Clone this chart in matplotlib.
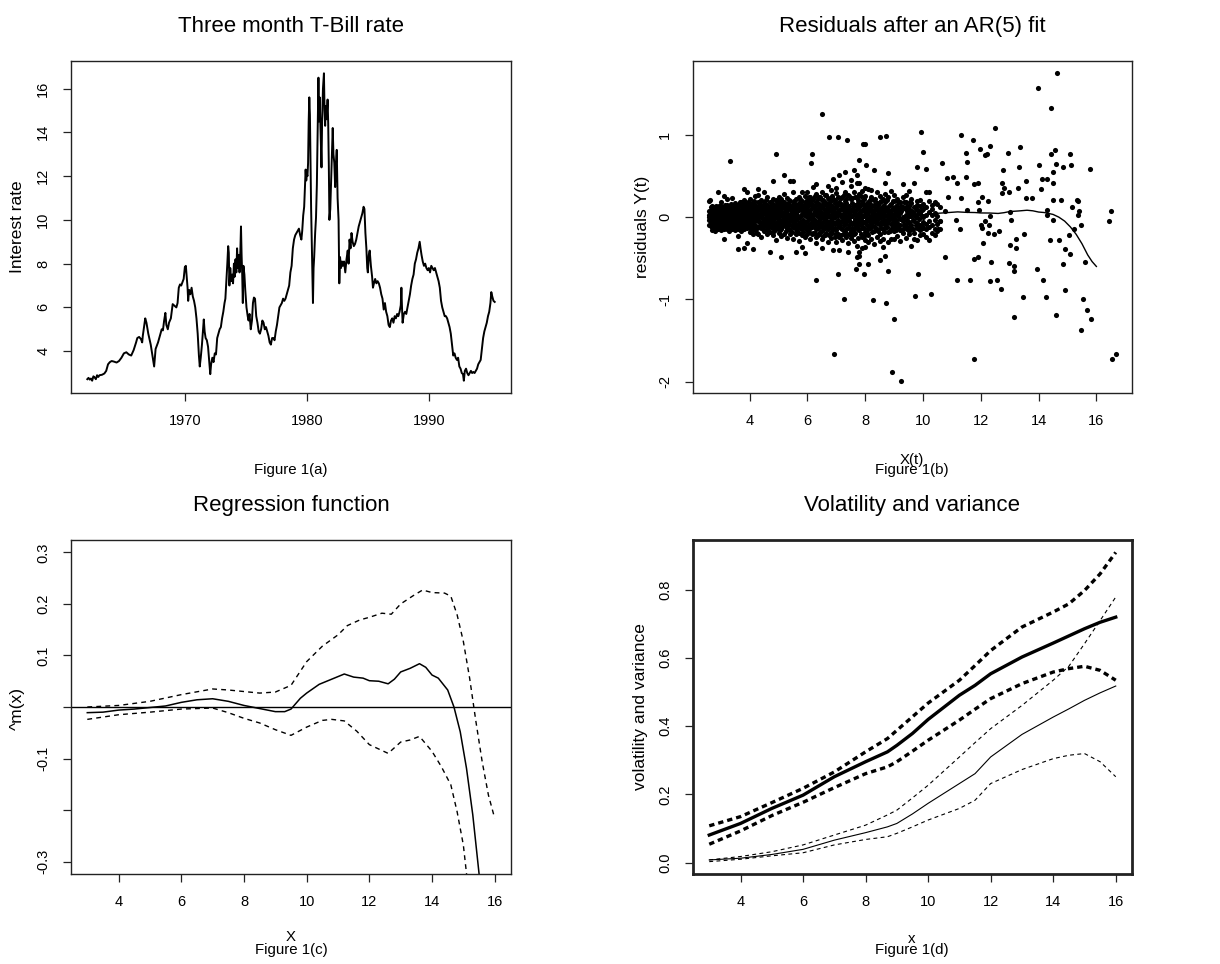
"""
Four-panel figure: T-Bill rate, AR(5) residuals, regression function,
volatility and variance (R-style base graphics look).
"""

import matplotlib
matplotlib.use("Agg")
import matplotlib.pyplot as plt

plt.rcParams["font.family"] = ["Liberation Sans", "DejaVu Sans"]
plt.rcParams["axes.unicode_minus"] = False

# ---------------------------------------------------------------------------
# Data
# ---------------------------------------------------------------------------

# (a) three month T-Bill rate
TB_YEAR = [
    1962.00, 1962.10, 1962.20, 1962.30, 1962.40, 1962.50, 1962.60, 1962.70, 1962.80, 1962.90,
    1963.00, 1963.20, 1963.40, 1963.55, 1963.70, 1963.85, 1964.00, 1964.20, 1964.40, 1964.60,
    1964.80, 1965.00, 1965.20, 1965.40, 1965.60, 1965.80, 1966.00, 1966.10, 1966.25, 1966.40,
    1966.50, 1966.55, 1966.65, 1966.75, 1966.85, 1967.00, 1967.20, 1967.40, 1967.48, 1967.60,
    1967.80, 1968.00, 1968.10, 1968.20, 1968.30, 1968.40, 1968.48, 1968.60, 1968.70, 1968.85,
    1969.00, 1969.10, 1969.20, 1969.30, 1969.40, 1969.50, 1969.60, 1969.70, 1969.80, 1969.90,
    1970.00, 1970.08, 1970.15, 1970.22, 1970.27, 1970.35, 1970.45, 1970.55, 1970.65, 1970.75,
    1970.85, 1970.95, 1971.05, 1971.15, 1971.22, 1971.30, 1971.40, 1971.50, 1971.55, 1971.62,
    1971.70, 1971.80, 1971.90, 1972.00, 1972.08, 1972.15, 1972.25, 1972.35, 1972.45, 1972.55,
    1972.65, 1972.75, 1972.85, 1972.95, 1973.05, 1973.15, 1973.25, 1973.32, 1973.40, 1973.48,
    1973.55, 1973.60, 1973.65, 1973.72, 1973.80, 1973.88, 1973.95, 1974.02, 1974.08, 1974.15,
    1974.22, 1974.28, 1974.35, 1974.42, 1974.48, 1974.55, 1974.60, 1974.65, 1974.70, 1974.75,
    1974.80, 1974.88, 1974.95, 1975.05, 1975.15, 1975.22, 1975.30, 1975.40, 1975.50, 1975.58,
    1975.66, 1975.75, 1975.85, 1975.95, 1976.05, 1976.15, 1976.25, 1976.35, 1976.45, 1976.55,
    1976.65, 1976.75, 1976.85, 1976.95, 1977.05, 1977.15, 1977.25, 1977.35, 1977.45, 1977.55,
    1977.65, 1977.75, 1977.85, 1977.95, 1978.05, 1978.15, 1978.25, 1978.35, 1978.45, 1978.55,
    1978.65, 1978.75, 1978.85, 1978.95, 1979.05, 1979.15, 1979.25, 1979.35, 1979.45, 1979.55,
    1979.62, 1979.70, 1979.78, 1979.85, 1979.90, 1979.95, 1980.00, 1980.05, 1980.10, 1980.15,
    1980.20, 1980.25, 1980.30, 1980.35, 1980.40, 1980.45, 1980.50, 1980.55, 1980.60, 1980.68,
    1980.75, 1980.82, 1980.88, 1980.95, 1981.00, 1981.05, 1981.10, 1981.15, 1981.20, 1981.25,
    1981.32, 1981.40, 1981.45, 1981.50, 1981.55, 1981.62, 1981.70, 1981.75, 1981.80, 1981.85,
    1981.92, 1982.00, 1982.05, 1982.12, 1982.18, 1982.25, 1982.32, 1982.40, 1982.45, 1982.52,
    1982.60, 1982.66, 1982.72, 1982.80, 1982.88, 1982.95, 1983.05, 1983.15, 1983.25, 1983.35,
    1983.42, 1983.50, 1983.58, 1983.66, 1983.75, 1983.85, 1983.95, 1984.05, 1984.15, 1984.25,
    1984.35, 1984.45, 1984.55, 1984.65, 1984.72, 1984.80, 1984.88, 1984.95, 1985.00, 1985.08,
    1985.15, 1985.25, 1985.35, 1985.42, 1985.50, 1985.60, 1985.70, 1985.80, 1985.90, 1986.00,
    1986.10, 1986.20, 1986.30, 1986.40, 1986.50, 1986.60, 1986.70, 1986.80, 1986.90, 1987.00,
    1987.10, 1987.20, 1987.30, 1987.40, 1987.50, 1987.60, 1987.70, 1987.75, 1987.80, 1987.85,
    1987.95, 1988.05, 1988.15, 1988.25, 1988.35, 1988.45, 1988.55, 1988.65, 1988.75, 1988.85,
    1988.95, 1989.05, 1989.15, 1989.25, 1989.32, 1989.40, 1989.50, 1989.60, 1989.70, 1989.80,
    1989.90, 1990.00, 1990.10, 1990.20, 1990.30, 1990.40, 1990.50, 1990.60, 1990.70, 1990.80,
    1990.90, 1991.00, 1991.10, 1991.20, 1991.30, 1991.40, 1991.50, 1991.60, 1991.70, 1991.80,
    1991.90, 1992.00, 1992.10, 1992.20, 1992.30, 1992.40, 1992.50, 1992.60, 1992.70, 1992.80,
    1992.87, 1992.95, 1993.05, 1993.15, 1993.25, 1993.35, 1993.45, 1993.55, 1993.65, 1993.75,
    1993.85, 1993.95, 1994.05, 1994.15, 1994.25, 1994.35, 1994.45, 1994.55, 1994.65, 1994.75,
    1994.85, 1994.95, 1995.05, 1995.12, 1995.20, 1995.30, 1995.40,
]
TB_RATE = [
    2.72, 2.78, 2.70, 2.75, 2.65, 2.85, 2.80, 2.72, 2.90, 2.82,
    2.90, 2.92, 2.98, 3.10, 3.40, 3.50, 3.55, 3.52, 3.48, 3.55,
    3.70, 3.90, 3.95, 3.85, 3.80, 4.05, 4.40, 4.60, 4.65, 4.55,
    4.40, 4.70, 5.10, 5.50, 5.30, 4.80, 4.30, 3.60, 3.30, 4.10,
    4.40, 4.80, 5.00, 4.95, 5.40, 5.75, 5.20, 5.00, 5.30, 5.50,
    6.15, 6.10, 6.05, 6.00, 6.20, 6.90, 7.05, 7.00, 7.15, 7.30,
    7.85, 7.90, 7.40, 6.90, 6.30, 6.80, 6.60, 6.90, 6.50, 6.30,
    6.00, 5.50, 4.80, 3.80, 3.30, 3.70, 4.30, 5.10, 5.45, 4.90,
    4.60, 4.50, 4.20, 3.50, 2.95, 3.40, 3.70, 3.50, 3.90, 3.85,
    4.60, 4.80, 5.00, 5.10, 5.50, 5.80, 6.20, 6.40, 7.20, 8.00,
    8.80, 8.50, 7.00, 7.80, 7.20, 7.50, 7.10, 8.00, 7.40, 8.20,
    7.60, 8.70, 7.80, 8.40, 7.60, 8.60, 9.70, 8.40, 7.50, 6.20,
    7.90, 7.50, 6.80, 6.00, 5.60, 5.40, 5.70, 5.00, 5.40, 6.20,
    6.45, 6.40, 5.60, 5.30, 4.90, 4.80, 5.00, 5.40, 5.30, 5.00,
    5.10, 4.90, 4.70, 4.40, 4.30, 4.60, 4.60, 4.50, 4.90, 5.20,
    5.60, 6.00, 6.10, 6.20, 6.40, 6.30, 6.40, 6.60, 6.80, 7.00,
    7.60, 7.90, 8.70, 9.10, 9.30, 9.40, 9.50, 9.60, 9.30, 9.10,
    9.50, 10.20, 10.60, 11.60, 12.30, 11.80, 12.10, 12.00, 12.60, 14.50,
    15.60, 14.80, 12.50, 10.50, 9.00, 7.50, 6.20, 7.80, 8.30, 9.40,
    10.10, 11.60, 14.00, 16.50, 14.50, 15.60, 14.60, 13.50, 12.40, 14.50,
    16.00, 16.70, 15.00, 14.30, 15.20, 14.60, 15.50, 14.40, 12.50, 10.00,
    10.50, 12.00, 12.80, 14.20, 13.00, 12.60, 11.50, 12.70, 13.20, 11.00,
    10.00, 7.10, 8.30, 7.80, 8.10, 7.90, 8.10, 7.60, 8.20, 8.60,
    8.00, 9.10, 8.70, 9.40, 9.00, 8.80, 8.90, 9.10, 9.40, 9.70,
    9.90, 10.10, 10.30, 10.60, 10.50, 9.40, 8.70, 7.80, 7.60, 8.40,
    8.60, 7.90, 7.40, 6.90, 7.10, 7.30, 7.10, 7.20, 7.10, 6.90,
    6.60, 6.40, 5.90, 6.20, 5.80, 5.60, 5.20, 5.10, 5.40, 5.50,
    5.30, 5.60, 5.50, 5.70, 5.60, 5.80, 6.10, 6.90, 6.00, 5.30,
    5.70, 5.80, 5.70, 6.00, 6.30, 6.60, 7.00, 7.30, 7.50, 8.00,
    8.20, 8.50, 8.70, 9.00, 8.70, 8.40, 8.10, 7.90, 8.00, 7.80,
    7.70, 7.80, 7.60, 7.90, 7.80, 7.70, 7.80, 7.60, 7.40, 7.20,
    6.90, 6.30, 6.00, 5.80, 5.60, 5.60, 5.50, 5.30, 5.10, 4.80,
    4.30, 3.80, 3.90, 3.70, 3.60, 3.70, 3.30, 3.20, 3.00, 2.95,
    2.65, 3.10, 3.20, 3.00, 2.90, 3.00, 3.10, 3.00, 3.05, 3.00,
    3.10, 3.20, 3.40, 3.50, 3.60, 4.10, 4.60, 4.90, 5.10, 5.30,
    5.60, 5.80, 6.20, 6.70, 6.50, 6.30, 6.25,
]

# (b) residuals: dense cloud, by X(t) column -> residual values
CLOUD = {
    2.6: [0.02, -0.04, 0.07, -0.09, 0.20, 0.00],
    2.7: [0.05, -0.06, 0.10, -0.12, 0.00, -0.16, 0.13, 0.03],
    2.8: [0.03, -0.08, 0.08, -0.02, -0.13, 0.12, -0.17, 0.05],
    2.9: [0.06, -0.04, 0.01, -0.10, 0.11, 0.31, -0.14, -0.07],
    3.0: [0.04, -0.06, 0.09, -0.12, 0.00, 0.14, -0.16, 0.18],
    3.1: [0.02, -0.02, 0.07, -0.09, 0.12, -0.14, -0.26, 0.05, 0.26],
    3.2: [0.05, -0.05, 0.10, -0.10, 0.00, 0.15, -0.15, 0.22],
    3.3: [0.01, -0.07, 0.08, -0.12, 0.13, 0.04, -0.03, -0.17],
    3.4: [0.03, -0.04, 0.09, -0.10, 0.14, 0.23, -0.15, 0.06],
    3.5: [0.00, -0.06, 0.06, -0.11, 0.12, -0.16, 0.17, 0.02],
    3.6: [0.04, -0.03, 0.10, -0.09, -0.39, -0.23, 0.15, -0.14, 0.07],
    3.7: [0.02, -0.07, 0.08, -0.12, 0.13, 0.18, -0.17, -0.02],
    3.8: [0.05, -0.05, 0.11, -0.10, 0.21, 0.34, -0.38, -0.15, 0.00],
    3.9: [0.01, -0.08, 0.07, -0.13, 0.14, 0.30, -0.32, 0.04, -0.03],
    4.0: [0.03, -0.04, 0.09, -0.11, 0.16, -0.18, 0.22, 0.00],
    4.1: [0.06, -0.06, 0.12, -0.14, 0.01, -0.39, 0.18, -0.20],
    4.2: [0.02, -0.09, 0.08, -0.03, 0.15, -0.16, 0.26, 0.05],
    4.3: [0.04, -0.05, 0.10, -0.12, 0.34, -0.21, 0.18, -0.01, 0.27],
    4.4: [0.00, -0.07, 0.07, -0.13, 0.14, -0.24, 0.21, 0.03],
    4.5: [0.05, -0.03, 0.11, -0.10, 0.31, -0.17, 0.18, -0.06],
    4.6: [0.02, -0.08, 0.08, -0.14, 0.24, -0.20, 0.15, 0.00],
    4.7: [0.06, -0.04, 0.12, -0.11, -0.43, 0.19, -0.18, 0.01],
    4.8: [0.03, -0.06, 0.09, -0.13, 0.44, 0.16, -0.22, 0.22, -0.01],
    4.9: [0.00, -0.09, 0.07, -0.15, 0.14, -0.28, 0.21, 0.04],
    5.0: [0.05, -0.05, 0.11, -0.12, 0.18, -0.19, 0.25, -0.02],
    5.1: [0.02, -0.08, 0.08, -0.14, 0.15, -0.48, -0.23, 0.22, 0.04],
    5.2: [0.06, -0.04, 0.12, -0.10, 0.51, 0.19, -0.20, -0.01, 0.28],
    5.3: [0.01, -0.07, 0.09, -0.13, 0.16, -0.25, 0.23, 0.04],
    5.4: [0.04, -0.05, 0.10, -0.16, 0.44, 0.20, -0.21, 0.00],
    5.5: [0.02, -0.09, 0.08, -0.12, 0.44, 0.30, -0.27, 0.15, -0.03],
    5.6: [0.05, -0.04, 0.13, -0.15, -0.43, 0.22, -0.20, 0.01],
    5.7: [0.00, -0.07, 0.09, -0.11, 0.17, -0.29, 0.24, -0.19],
    5.8: [0.04, -0.06, 0.11, -0.14, 0.31, 0.20, -0.22, -0.36, 0.02],
    5.9: [0.02, -0.09, 0.07, -0.12, 0.16, -0.44, 0.26, -0.24],
    6.0: [0.06, -0.05, 0.12, -0.16, 0.21, -0.21, 0.01, 0.30],
    6.1: [0.01, -0.08, 0.09, -0.13, 0.18, -0.27, 0.25, 0.04],
    6.2: [0.04, -0.04, 0.13, -0.11, 0.37, -0.19, 0.22, -0.02],
    6.3: [0.02, -0.07, 0.10, -0.15, 0.40, 0.19, -0.24, 0.28, -0.31],
    6.4: [0.05, -0.06, 0.08, -0.12, 0.16, -0.21, 0.24, 0.00],
    6.5: [0.00, -0.09, 0.12, -0.17, -0.38, 0.21, -0.26, 0.31, 0.05],
    6.6: [0.03, -0.05, 0.09, -0.13, 0.18, -0.22, 0.27, -0.02],
    6.7: [0.06, -0.08, 0.11, -0.15, 0.38, -0.30, 0.23, 0.01],
    6.8: [0.01, -0.04, 0.13, -0.11, 0.20, -0.25, 0.33, -0.18],
    6.9: [0.04, -0.07, 0.08, -0.14, 0.47, -0.40, 0.22, 0.02],
    7.0: [0.02, -0.06, 0.12, -0.16, 0.29, -0.21, 0.36, -0.30, 0.05],
    7.1: [0.05, -0.09, 0.09, -0.12, 0.51, -0.40, 0.19, -0.24],
    7.2: [0.00, -0.05, 0.14, -0.15, 0.43, 0.25, -0.28, 0.03],
    7.3: [0.03, -0.08, 0.10, -0.18, 0.55, 0.31, -0.22, 0.20],
    7.4: [0.06, -0.04, 0.12, -0.13, -0.42, 0.27, -0.31, 0.00],
    7.5: [0.01, -0.07, 0.08, -0.17, 0.22, -0.25, 0.38, 0.45],
    7.6: [0.04, -0.06, 0.13, -0.14, 0.57, 0.30, -0.29, -0.20],
    7.7: [0.02, -0.09, 0.10, -0.12, 0.51, -0.49, 0.24, -0.35, 0.41],
    7.8: [0.05, -0.05, 0.14, -0.16, 0.42, -0.42, 0.28, -0.47, 0.00],
    7.9: [0.00, -0.08, 0.09, -0.13, 0.20, -0.37, 0.32, -0.24],
    8.0: [0.03, -0.06, 0.12, -0.18, 0.26, -0.36, -0.28, 0.36, 0.06],
    8.1: [0.06, -0.04, 0.10, -0.15, 0.34, -0.22, 0.19, -0.30],
    8.2: [0.01, -0.09, 0.13, -0.12, 0.25, -0.27, 0.07, 0.33],
    8.3: [0.04, -0.05, 0.08, -0.17, 0.21, -0.33, 0.15, -0.01],
    8.4: [0.02, -0.07, 0.11, -0.14, 0.30, -0.24, 0.17],
    8.5: [0.05, -0.10, 0.09, -0.20, 0.19, -0.52, -0.29, 0.26],
    8.6: [0.00, -0.06, 0.14, -0.15, -0.36, 0.22, -0.27, 0.04],
    8.7: [0.03, -0.09, 0.10, -0.13, 0.41, 0.28, -0.47, 0.18],
    8.8: [0.06, -0.05, 0.12, -0.18, 0.24, -0.30, -0.02],
    8.9: [0.01, -0.08, 0.08, -0.14, 0.32, -0.26, 0.16],
    9.0: [0.04, -0.04, 0.11, -0.17, 0.20, -0.27, 0.27, -0.10],
    9.1: [0.02, -0.07, 0.13, -0.13, 0.22, -0.23, 0.06],
    9.2: [0.05, -0.10, 0.09, -0.16, 0.18, -0.29, -0.02],
    9.3: [0.00, -0.05, 0.12, -0.19, 0.40, 0.24, -0.14],
    9.4: [0.03, -0.08, 0.10, -0.12, 0.19, -0.25, 0.27],
    9.5: [0.06, -0.06, 0.14, -0.17, 0.32, -0.21, 0.01],
    9.6: [0.01, -0.09, 0.08, -0.14, 0.22, -0.35, 0.17],
    9.7: [0.04, -0.05, 0.12, -0.19, 0.42, -0.27, 0.03],
    9.8: [0.02, -0.07, 0.09, -0.13, 0.20, -0.28, 0.15],
    9.9: [0.05, -0.10, 0.13, -0.16, 0.21, -0.22],
    10.0: [0.00, -0.06, 0.10, -0.20, 0.16, -0.13],
    10.1: [0.03, -0.08, 0.30, -0.15, 0.12, -0.24],
    10.2: [0.06, -0.05, 0.31, -0.28, 0.20, -0.12],
    10.3: [0.02, -0.09, 0.15, -0.19, 0.10],
    10.4: [0.05, -0.04, 0.18, -0.14, -0.22],
    10.5: [0.01, -0.08, 0.16, -0.17],
    10.6: [-0.05, 0.12, -0.15],
}

# (b) extra points in the solid core of the cloud (between the columns above)
CORE = {
    2.65: [0.08, -0.01, -0.11, 0.12, -0.06],
    2.75: [0.07, -0.03, -0.09, 0.11, 0.02],
    2.85: [0.09, 0.00, -0.10, 0.13, -0.05],
    2.95: [0.07, -0.02, -0.12, 0.14, 0.03],
    3.05: [0.06, -0.03, -0.09, 0.11, 0.01],
    3.15: [0.09, 0.00, -0.11, 0.15, -0.05],
    3.25: [0.07, -0.02, -0.08, 0.12, 0.03],
    3.35: [0.10, -0.01, -0.13, 0.16, -0.06],
    3.45: [0.08, -0.03, -0.08, 0.11, 0.01],
    3.55: [0.09, 0.01, -0.12, 0.14, -0.05],
    3.65: [0.07, -0.02, -0.10, 0.18, 0.02],
    3.75: [0.10, 0.00, -0.13, 0.15, -0.06],
    3.85: [0.08, -0.03, -0.11, 0.17, 0.03],
    3.95: [0.11, 0.01, -0.09, 0.19, -0.05],
    4.05: [0.07, -0.02, -0.14, 0.13, 0.04, -0.08],
    4.15: [0.10, 0.00, -0.10, 0.20, -0.05, 0.15],
    4.25: [0.08, -0.03, -0.13, 0.12, 0.03, -0.19],
    4.35: [0.11, 0.01, -0.09, 0.19, -0.06, 0.15],
    4.45: [0.07, -0.02, -0.15, 0.13, 0.04, -0.10],
    4.55: [0.09, 0.00, -0.11, 0.21, -0.05, 0.15],
    4.65: [0.12, -0.03, -0.16, 0.10, 0.05, -0.09],
    4.75: [0.08, 0.01, -0.12, 0.18, -0.07, 0.14],
    4.85: [0.10, -0.02, -0.17, 0.13, 0.04, -0.10],
    4.95: [0.07, 0.00, -0.11, 0.20, -0.06, 0.16],
    5.05: [0.09, -0.03, -0.16, 0.14, 0.03, -0.09],
    5.15: [0.12, 0.01, -0.11, 0.19, -0.05, 0.16],
    5.25: [0.08, -0.02, -0.17, 0.14, 0.04, -0.08],
    5.35: [0.11, 0.00, -0.10, 0.21, -0.06, 0.15],
    5.45: [0.07, -0.03, -0.18, 0.13, 0.04, -0.11],
    5.55: [0.10, 0.01, -0.12, 0.20, -0.07, 0.17],
    5.65: [0.08, -0.02, -0.17, 0.14, 0.03, -0.09],
    5.75: [0.11, 0.00, -0.13, 0.22, -0.06, 0.16],
    5.85: [0.07, -0.03, -0.18, 0.13, 0.04, -0.10],
    5.95: [0.10, 0.01, -0.12, 0.19, -0.06, 0.15],
    6.05: [0.08, -0.02, -0.18, 0.15, 0.04, -0.10, 0.24],
    6.15: [0.11, 0.00, -0.12, 0.21, -0.06, 0.16, -0.21],
    6.25: [0.07, -0.03, -0.19, 0.14, 0.04, -0.10, 0.26],
    6.35: [0.10, 0.01, -0.13, 0.22, -0.06, 0.16, -0.22],
    6.45: [0.08, -0.02, -0.18, 0.14, 0.03, -0.10, 0.25],
    6.55: [0.11, 0.00, -0.13, 0.21, -0.06, 0.16, -0.23],
    6.65: [0.07, -0.03, -0.19, 0.15, 0.04, -0.10, 0.27],
    6.75: [0.10, 0.01, -0.12, 0.22, -0.06, 0.17, -0.22],
    6.85: [0.08, -0.02, -0.19, 0.14, 0.04, -0.09, 0.26],
    6.95: [0.11, 0.00, -0.13, 0.21, -0.07, 0.17, -0.24],
    7.05: [0.07, -0.03, -0.20, 0.15, 0.03, -0.10, 0.25],
    7.15: [0.10, 0.01, -0.13, 0.23, -0.06, 0.16, -0.22],
    7.25: [0.08, -0.02, -0.19, 0.15, 0.04, -0.09, 0.27],
    7.35: [0.11, 0.00, -0.14, 0.22, -0.06, 0.17, -0.24],
    7.45: [0.07, -0.03, -0.20, 0.14, 0.03, -0.10, 0.26],
    7.55: [0.10, 0.01, -0.13, 0.23, -0.07, 0.17, -0.22],
    7.65: [0.08, -0.02, -0.19, 0.15, 0.04, -0.09, 0.25],
    7.75: [0.11, 0.00, -0.14, 0.21, -0.06, 0.17, -0.25],
    7.85: [0.07, -0.03, -0.20, 0.15, 0.03, -0.10, 0.26],
    7.95: [0.10, 0.01, -0.13, 0.22, -0.06, 0.16, -0.23],
    8.05: [0.08, -0.02, -0.19, 0.15, 0.04, -0.10],
    8.15: [0.11, 0.00, -0.13, 0.21, -0.06, 0.16],
    8.25: [0.07, -0.03, -0.18, 0.14, 0.03, -0.09],
    8.35: [0.10, 0.01, -0.12, 0.22, -0.06],
    8.45: [0.08, -0.02, -0.17, 0.15, 0.04],
    8.55: [0.11, 0.00, -0.13, 0.20, -0.06],
    8.65: [0.07, -0.03, -0.18, 0.14, 0.03],
    8.75: [0.09, 0.01, -0.12, 0.21, -0.07],
    8.85: [0.08, -0.02, -0.17, 0.15, 0.04],
    8.95: [0.11, 0.00, -0.12, 0.20, -0.06],
    9.05: [0.07, -0.03, -0.16, 0.14],
    9.15: [0.10, 0.01, -0.11, 0.19],
    9.25: [0.08, -0.02, -0.16, 0.13],
    9.35: [0.11, 0.00, -0.10, 0.18],
    9.45: [0.07, -0.03, -0.15, 0.14],
    9.55: [0.09, 0.01, -0.11, 0.19],
    9.65: [0.06, -0.03, -0.14],
    9.75: [0.10, 0.00, -0.10],
    9.85: [0.07, -0.02, -0.14],
    9.95: [0.09, 0.01, -0.11],
}

# (b) residuals: scattered points outside the cloud
RES_X = [
    2.61, 3.31, 4.91, 6.51, 6.15, 6.13, 6.74, 7.07, 7.38, 8.52, 8.71, 7.91, 7.99, 7.78, 8.03,
    8.29, 8.78, 9.92, 10.01, 9.80, 10.09, 10.67, 11.32, 11.72, 11.48, 11.51, 11.97, 12.15, 12.20,
    12.32, 12.49, 12.93, 13.37, 13.99, 14.63, 14.44, 14.57, 14.43, 14.03, 14.61, 14.84, 15.09,
    15.11, 15.78, 16.52, 16.44, 16.53, 16.67, 6.92, 8.94, 9.22, 9.01, 8.72, 8.28, 7.28, 6.28,
    7.06, 7.97, 7.69, 7.80, 8.10, 8.77, 9.71, 9.84, 10.29, 10.76, 11.18, 11.64, 11.77, 11.76,
    11.89, 12.34, 12.32, 12.56, 12.71, 13.16, 12.99, 13.16, 13.16, 13.00, 13.23, 13.22, 13.49,
    13.45, 13.94, 14.14, 14.25, 14.61, 14.40, 14.72, 14.83, 14.92, 14.93, 15.10, 15.06, 15.23,
    15.46, 15.60, 15.53, 15.48, 15.68, 15.80, 15.16, 15.32, 15.37, 15.39, 15.37, 14.78, 14.49,
    14.28, 14.11, 14.07, 14.49, 14.50, 14.30, 14.30, 14.50, 13.55, 13.56, 13.77, 13.33, 13.30,
    13.02, 13.05, 12.75, 12.79, 12.76, 12.99, 12.73, 12.62, 12.46, 12.28, 12.25, 12.08, 12.00,
    12.15, 12.31, 12.24, 12.05, 11.89, 11.89, 11.75, 11.92, 12.03, 11.52, 11.16, 11.05, 11.47,
    11.30, 11.13, 11.29, 10.86, 10.82, 10.77, 10.57, 10.53, 10.43,
]
RES_Y = [
    0.21, 0.68, 0.77, 1.25, 0.77, 0.66, 0.97, 0.98, 0.94, 0.98, 0.99, 0.89, 0.89, 0.70, 0.64,
    0.57, 0.54, 1.03, 0.79, 0.61, 0.58, 0.66, 1.00, 0.94, 0.78, 0.67, 0.83, 0.75, 0.77,
    0.86, 1.09, 0.78, 0.85, 1.57, 1.75, 1.33, 0.82, 0.77, 0.63, 0.65, 0.61, 0.77,
    0.63, 0.59, 0.08, -0.05, -1.73, -1.66, -1.66, -1.88, -1.99, -1.24, -1.04, -1.01, -1.00, -0.76,
    -0.69, -0.69, -0.63, -0.57, -0.57, -0.65, -0.96, -0.69, -0.94, -0.48, -0.77, -0.76, -1.73, -0.51,
    -0.49, -0.55, -0.78, -0.77, -0.88, -1.22, -0.56, -0.66, -0.60, -0.34, -0.38, -0.26, -0.20,
    -0.97, -0.63, -0.77, -0.97, -1.19, -0.28, -0.28, -0.57, -0.39, -0.89, -0.45, -0.22, -0.14,
    -0.10, -0.55, -0.99, -1.37, -1.13, -1.24, 0.12, 0.21, 0.20, 0.08, 0.03, 0.21, 0.21,
    0.47, 0.47, 0.34, 0.41, 0.55, 0.09, 0.03, -0.03, 0.44, 0.23, 0.23, 0.61, 0.35,
    0.06, -0.03, 0.42, 0.35, 0.57, 0.30, 0.29, -0.17, -0.20, -0.10, -0.19, -0.32, -0.10,
    -0.05, 0.01, 0.20, 0.25, 0.19, 0.41, 0.40, 0.09, -0.13, 0.09, 0.41, 0.49, 0.49,
    0.23, -0.03, -0.14, 0.24, 0.48, 0.07, -0.05, -0.15, 0.17,
]

# (b)/(c) regression function m(x) and its band
M_X = [3.0, 3.5, 4.0, 4.5, 5.0, 5.5, 6.0, 6.5, 7.0, 7.5, 8.0, 8.5, 9.0, 9.3, 9.5, 9.8,
       10.0, 10.4, 10.8, 11.2, 11.5, 11.8, 12.0, 12.3, 12.6, 12.8, 13.0, 13.3, 13.6, 13.8,
       14.0, 14.2, 14.5, 14.7, 14.9, 15.1, 15.3, 15.5, 15.7, 15.85, 16.0]
M_Y = [-0.011, -0.010, -0.006, -0.004, -0.001, 0.002, 0.009, 0.014, 0.016, 0.011, 0.003,
       -0.003, -0.009, -0.009, -0.004, 0.017, 0.027, 0.044, 0.054, 0.064, 0.058, 0.056,
       0.051, 0.050, 0.045, 0.054, 0.068, 0.075, 0.084, 0.077, 0.062, 0.056, 0.033, 0.000,
       -0.048, -0.119, -0.209, -0.323, -0.46, -0.54, -0.60]

UP_X = [3.0, 4.0, 5.0, 6.0, 7.0, 7.5, 8.0, 8.5, 9.0, 9.5, 10.0, 10.5, 11.0, 11.3, 11.7,
        12.0, 12.4, 12.7, 13.0, 13.4, 13.7, 14.0, 14.4, 14.6, 14.8, 15.0, 15.2, 15.4, 15.6,
        15.8, 16.0]
UP_Y = [0.000, 0.003, 0.011, 0.024, 0.035, 0.033, 0.030, 0.027, 0.029, 0.042, 0.088, 0.118,
        0.140, 0.158, 0.169, 0.174, 0.182, 0.180, 0.200, 0.216, 0.227, 0.222, 0.221, 0.215,
        0.179, 0.127, 0.056, -0.028, -0.106, -0.171, -0.216]

LO_X = [3.0, 4.0, 5.0, 6.0, 7.0, 7.5, 8.0, 8.5, 9.0, 9.5, 10.0, 10.5, 10.8, 11.2, 11.6,
        12.0, 12.6, 13.0, 13.3, 13.6, 14.0, 14.3, 14.6, 14.8, 15.0, 15.1, 15.3]
LO_Y = [-0.024, -0.015, -0.010, -0.004, -0.002, -0.011, -0.022, -0.031, -0.044, -0.055,
        -0.039, -0.026, -0.024, -0.027, -0.047, -0.073, -0.090, -0.068, -0.064, -0.057,
        -0.086, -0.116, -0.151, -0.203, -0.268, -0.323, -0.42]

# (d) volatility (thick) and variance (thin) with bands
VD_X = [3.0, 4.0, 5.0, 6.0, 7.0, 8.0, 8.7, 9.0, 9.5, 10.0, 11.0, 11.5, 12.0, 13.0, 14.0,
        14.5, 15.0, 15.5, 16.0]
VOL = [0.081, 0.115, 0.159, 0.198, 0.252, 0.296, 0.325, 0.344, 0.379, 0.420, 0.491, 0.520,
       0.554, 0.603, 0.644, 0.665, 0.686, 0.705, 0.720]
VOL_UP = [0.108, 0.135, 0.176, 0.218, 0.266, 0.325, 0.364, 0.388, 0.428, 0.468, 0.535, 0.578,
          0.622, 0.691, 0.735, 0.759, 0.798, 0.847, 0.910]
VOL_LO = [0.054, 0.093, 0.138, 0.177, 0.220, 0.261, 0.281, 0.296, 0.327, 0.359, 0.418, 0.450,
          0.481, 0.525, 0.559, 0.569, 0.576, 0.564, 0.535]
VAR = [0.008, 0.013, 0.024, 0.039, 0.066, 0.088, 0.105, 0.115, 0.143, 0.174, 0.232, 0.261,
       0.310, 0.376, 0.427, 0.451, 0.476, 0.498, 0.518]
VAR_UP = [0.008, 0.018, 0.032, 0.052, 0.081, 0.110, 0.140, 0.154, 0.190, 0.227, 0.310, 0.352,
          0.393, 0.461, 0.535, 0.576, 0.642, 0.710, 0.779]
VAR_LO = [0.003, 0.010, 0.020, 0.029, 0.052, 0.068, 0.076, 0.086, 0.105, 0.125, 0.159, 0.183,
          0.232, 0.273, 0.305, 0.315, 0.320, 0.296, 0.252]

# ---------------------------------------------------------------------------
# Layout helpers
# ---------------------------------------------------------------------------

W, H = 1220, 964
TICK_FS = 10.5
TITLE_FS = 16
YLAB_FS = 12.5
XLAB_FS = 10.8


def r_lims(vals):
    """R's default 4% axis extension."""
    lo, hi = min(vals), max(vals)
    pad = 0.04 * (hi - lo)
    return lo - pad, hi + pad


def px_axes(left, top, right, bottom):
    return fig.add_axes([left / W, 1 - bottom / H, (right - left) / W, (bottom - top) / H])


def r_style(ax, lw=1.0):
    for s in ax.spines.values():
        s.set_linewidth(lw)
        s.set_color("#222222")
    ax.tick_params(direction="out", length=6, width=0.9, labelsize=TICK_FS,
                   color="#222222", pad=9)
    for lab in ax.get_yticklabels():
        lab.set_rotation(90)
        lab.set_va("center")


def ftext(x, y, s, **kw):
    fig.text(x / W, 1 - y / H, s, ha="center", va="center", **kw)


def flatten(cols):
    xs = [x for x, ys in cols.items() for _ in ys]
    ys = [y for vals in cols.values() for y in vals]
    return xs, ys


fig = plt.figure(figsize=(W / 100, H / 100), dpi=100)
fig.patch.set_facecolor("white")

DASH = (0, (3.5, 3))

# ---------------------------------------------------------------------------
# (a) T-Bill rate
# ---------------------------------------------------------------------------
ax = px_axes(71, 61, 511, 393)
ax.plot(TB_YEAR, TB_RATE, color="black", lw=1.4)
ax.set_xlim(*r_lims(TB_YEAR))
ax.set_ylim(*r_lims(TB_RATE))
ax.set_xticks([1970, 1980, 1990])
ax.set_yticks([4, 6, 8, 10, 12, 14, 16])
r_style(ax)
ax.set_title("Three month T-Bill rate", fontsize=TITLE_FS, pad=21)
ftext(18, 227, "Interest rate", rotation=90, fontsize=YLAB_FS)
ftext(291, 470, "Figure 1(a)", fontsize=XLAB_FS)

# ---------------------------------------------------------------------------
# (b) residuals
# ---------------------------------------------------------------------------
ax = px_axes(693, 61, 1132, 393)
cx, cy = flatten(CLOUD)
kx, ky = flatten(CORE)
all_x = cx + kx + RES_X
all_y = cy + ky + RES_Y
ax.plot(all_x, all_y, ls="none", marker="o", ms=3.7, mfc="black", mec="black", mew=0)
ax.plot(M_X, M_Y, color="black", lw=1.0)
ax.set_xlim(*r_lims(all_x))
ax.set_ylim(*r_lims(all_y))
ax.set_xticks([4, 6, 8, 10, 12, 14, 16])
ax.set_yticks([-2, -1, 0, 1])
r_style(ax)
ax.set_title("Residuals after an AR(5) fit", fontsize=TITLE_FS, pad=21)
ftext(642, 227, "residuals Y(t)", rotation=90, fontsize=YLAB_FS)
ftext(912, 460, "X(t)", fontsize=XLAB_FS)
ftext(912, 470, "Figure 1(b)", fontsize=XLAB_FS)

# ---------------------------------------------------------------------------
# (c) regression function
# ---------------------------------------------------------------------------
ax = px_axes(71, 540, 511, 874)
ax.plot(M_X, M_Y, color="black", lw=1.1)
ax.plot(UP_X, UP_Y, color="black", lw=1.0, ls=DASH)
ax.plot(LO_X, LO_Y, color="black", lw=1.0, ls=DASH)
ax.axhline(0, color="black", lw=1.0)
ax.set_xlim(*r_lims(M_X))
ax.set_ylim(*r_lims([-0.3, 0.3]))
ax.set_xticks([4, 6, 8, 10, 12, 14, 16])
ax.set_yticks([-0.3, -0.2, -0.1, 0.0, 0.1, 0.2, 0.3])
ax.set_yticklabels(["-0.3", "", "-0.1", "", "0.1", "0.2", "0.3"])
r_style(ax)
ax.set_title("Regression function", fontsize=TITLE_FS, pad=21)
ftext(17, 708, "^m(x)", rotation=90, fontsize=YLAB_FS)
ftext(291, 937, "X", fontsize=XLAB_FS)
ftext(291, 950, "Figure 1(c)", fontsize=XLAB_FS)

# ---------------------------------------------------------------------------
# (d) volatility and variance
# ---------------------------------------------------------------------------
ax = px_axes(693, 540, 1132, 874)
ax.plot(VD_X, VOL, color="black", lw=2.4)
ax.plot(VD_X, VOL_UP, color="black", lw=2.4, ls=(0, (1.6, 1.2)))
ax.plot(VD_X, VOL_LO, color="black", lw=2.4, ls=(0, (1.6, 1.2)))
ax.plot(VD_X, VAR, color="black", lw=0.8)
ax.plot(VD_X, VAR_UP, color="black", lw=0.8, ls=DASH)
ax.plot(VD_X, VAR_LO, color="black", lw=0.8, ls=DASH)
ax.set_xlim(*r_lims(VD_X))
ax.set_ylim(*r_lims(VAR_LO + VOL_UP))
ax.set_xticks([4, 6, 8, 10, 12, 14, 16])
ax.set_yticks([0.0, 0.2, 0.4, 0.6, 0.8])
ax.set_yticklabels(["0.0", "0.2", "0.4", "0.6", "0.8"])
r_style(ax, lw=2.0)
ax.set_title("Volatility and variance", fontsize=TITLE_FS, pad=21)
ftext(640, 707, "volatility and variance", rotation=90, fontsize=YLAB_FS)
ftext(912, 939, "x", fontsize=XLAB_FS)
ftext(912, 950, "Figure 1(d)", fontsize=XLAB_FS)

fig.savefig("out.png", dpi=100, facecolor="white")
plt.close(fig)
print("Saved out.png")
